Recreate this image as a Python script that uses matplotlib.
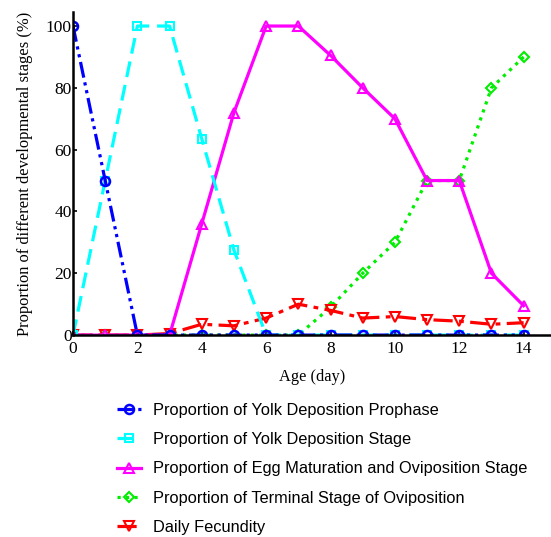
import matplotlib.pyplot as plt
from matplotlib.lines import Line2D

days = list(range(15))
prophase = [100, 50, 0, 0, 0, 0, 0, 0, 0, 0, 0, 0, 0, 0, 0]
yolk_stage = [0, 50, 100, 100, 63.5, 27.5, 0, 0, 0, 0, 0, 0, 0, 0, 0]
egg_maturation = [0, 0, 0, 0, 36, 72, 100, 100, 90.5, 80, 70, 50, 50, 20, 9.5]
terminal = [0, 0, 0, 0, 0, 0, 0, 0, 9, 20, 30, 50, 50, 80, 90]
fecundity = [0, 0, 0, 0.5, 3.5, 3, 5.5, 10, 8, 5.5, 6, 5, 4.5, 3.5, 4]

labels = ['Proportion of Yolk Deposition Prophase',
          'Proportion of Yolk Deposition Stage',
          'Proportion of Egg Maturation and Oviposition Stage',
          'Proportion of Terminal Stage of Oviposition',
          'Daily Fecundity']

# line styles for each series (same order as labels)
styles = [
    dict(color='blue', linestyle=(0, (5, 1.5, 1, 1.5, 1, 1.5)), marker='o', markersize=6.5, markeredgewidth=1.8),
    dict(color='cyan', linestyle=(0, (5, 2.5)), marker='s', markersize=6, markeredgewidth=1.5),
    dict(color='magenta', linestyle='-', marker='^', markersize=7, markeredgewidth=1.5),
    dict(color='#00ee00', linestyle=':', marker='D', markersize=5, markeredgewidth=1.5),
    dict(color='red', linestyle=(0, (6, 2, 1.5, 2)), marker='v', markersize=6.5, markeredgewidth=1.5),
]
series = [prophase, yolk_stage, egg_maturation, terminal, fecundity]

fig = plt.figure(figsize=(5.51, 5.37), dpi=100)
ax = fig.add_axes([0.1325, 0.376, 0.8675, 0.602])

# draw order: green, red, magenta, cyan, blue on top
for i in [3, 4, 2, 1, 0]:
    ax.plot(days, series[i], linewidth=2.3, markerfacecolor='none', **styles[i])

ax.set_xlim(0, 14.85)
ax.set_ylim(0, 104.6)
ax.set_xticks(range(0, 15, 2))
ax.set_yticks(range(0, 101, 20))
ax.spines['top'].set_visible(False)
ax.spines['right'].set_visible(False)
ax.spines['left'].set_linewidth(1.8)
ax.spines['bottom'].set_linewidth(1.8)
ax.tick_params(direction='in', length=3, width=1.2)
ax.tick_params(axis='x', pad=4)
ax.tick_params(axis='y', pad=1)
for t in ax.get_xticklabels() + ax.get_yticklabels():
    t.set_fontfamily('Liberation Serif')
    t.set_fontsize(12.5)
ax.set_xlabel('Age (day)', fontfamily='Liberation Serif', fontsize=11.8, labelpad=9)
ax.set_ylabel('Proportion of different developmental stages (%)',
              fontfamily='Liberation Serif', fontsize=11.9, labelpad=9)

handles = [Line2D([], [], linewidth=2.3, markerfacecolor='none', **s) for s in styles]
fig.legend(handles, labels, loc='upper left', bbox_to_anchor=(0.1996, 0.262),
           frameon=False, prop={'family': 'Liberation Sans', 'size': 11.8},
           handlelength=1.5, handletextpad=0.75, labelspacing=0.87, borderaxespad=0)

fig.savefig('out.png', dpi=100)
